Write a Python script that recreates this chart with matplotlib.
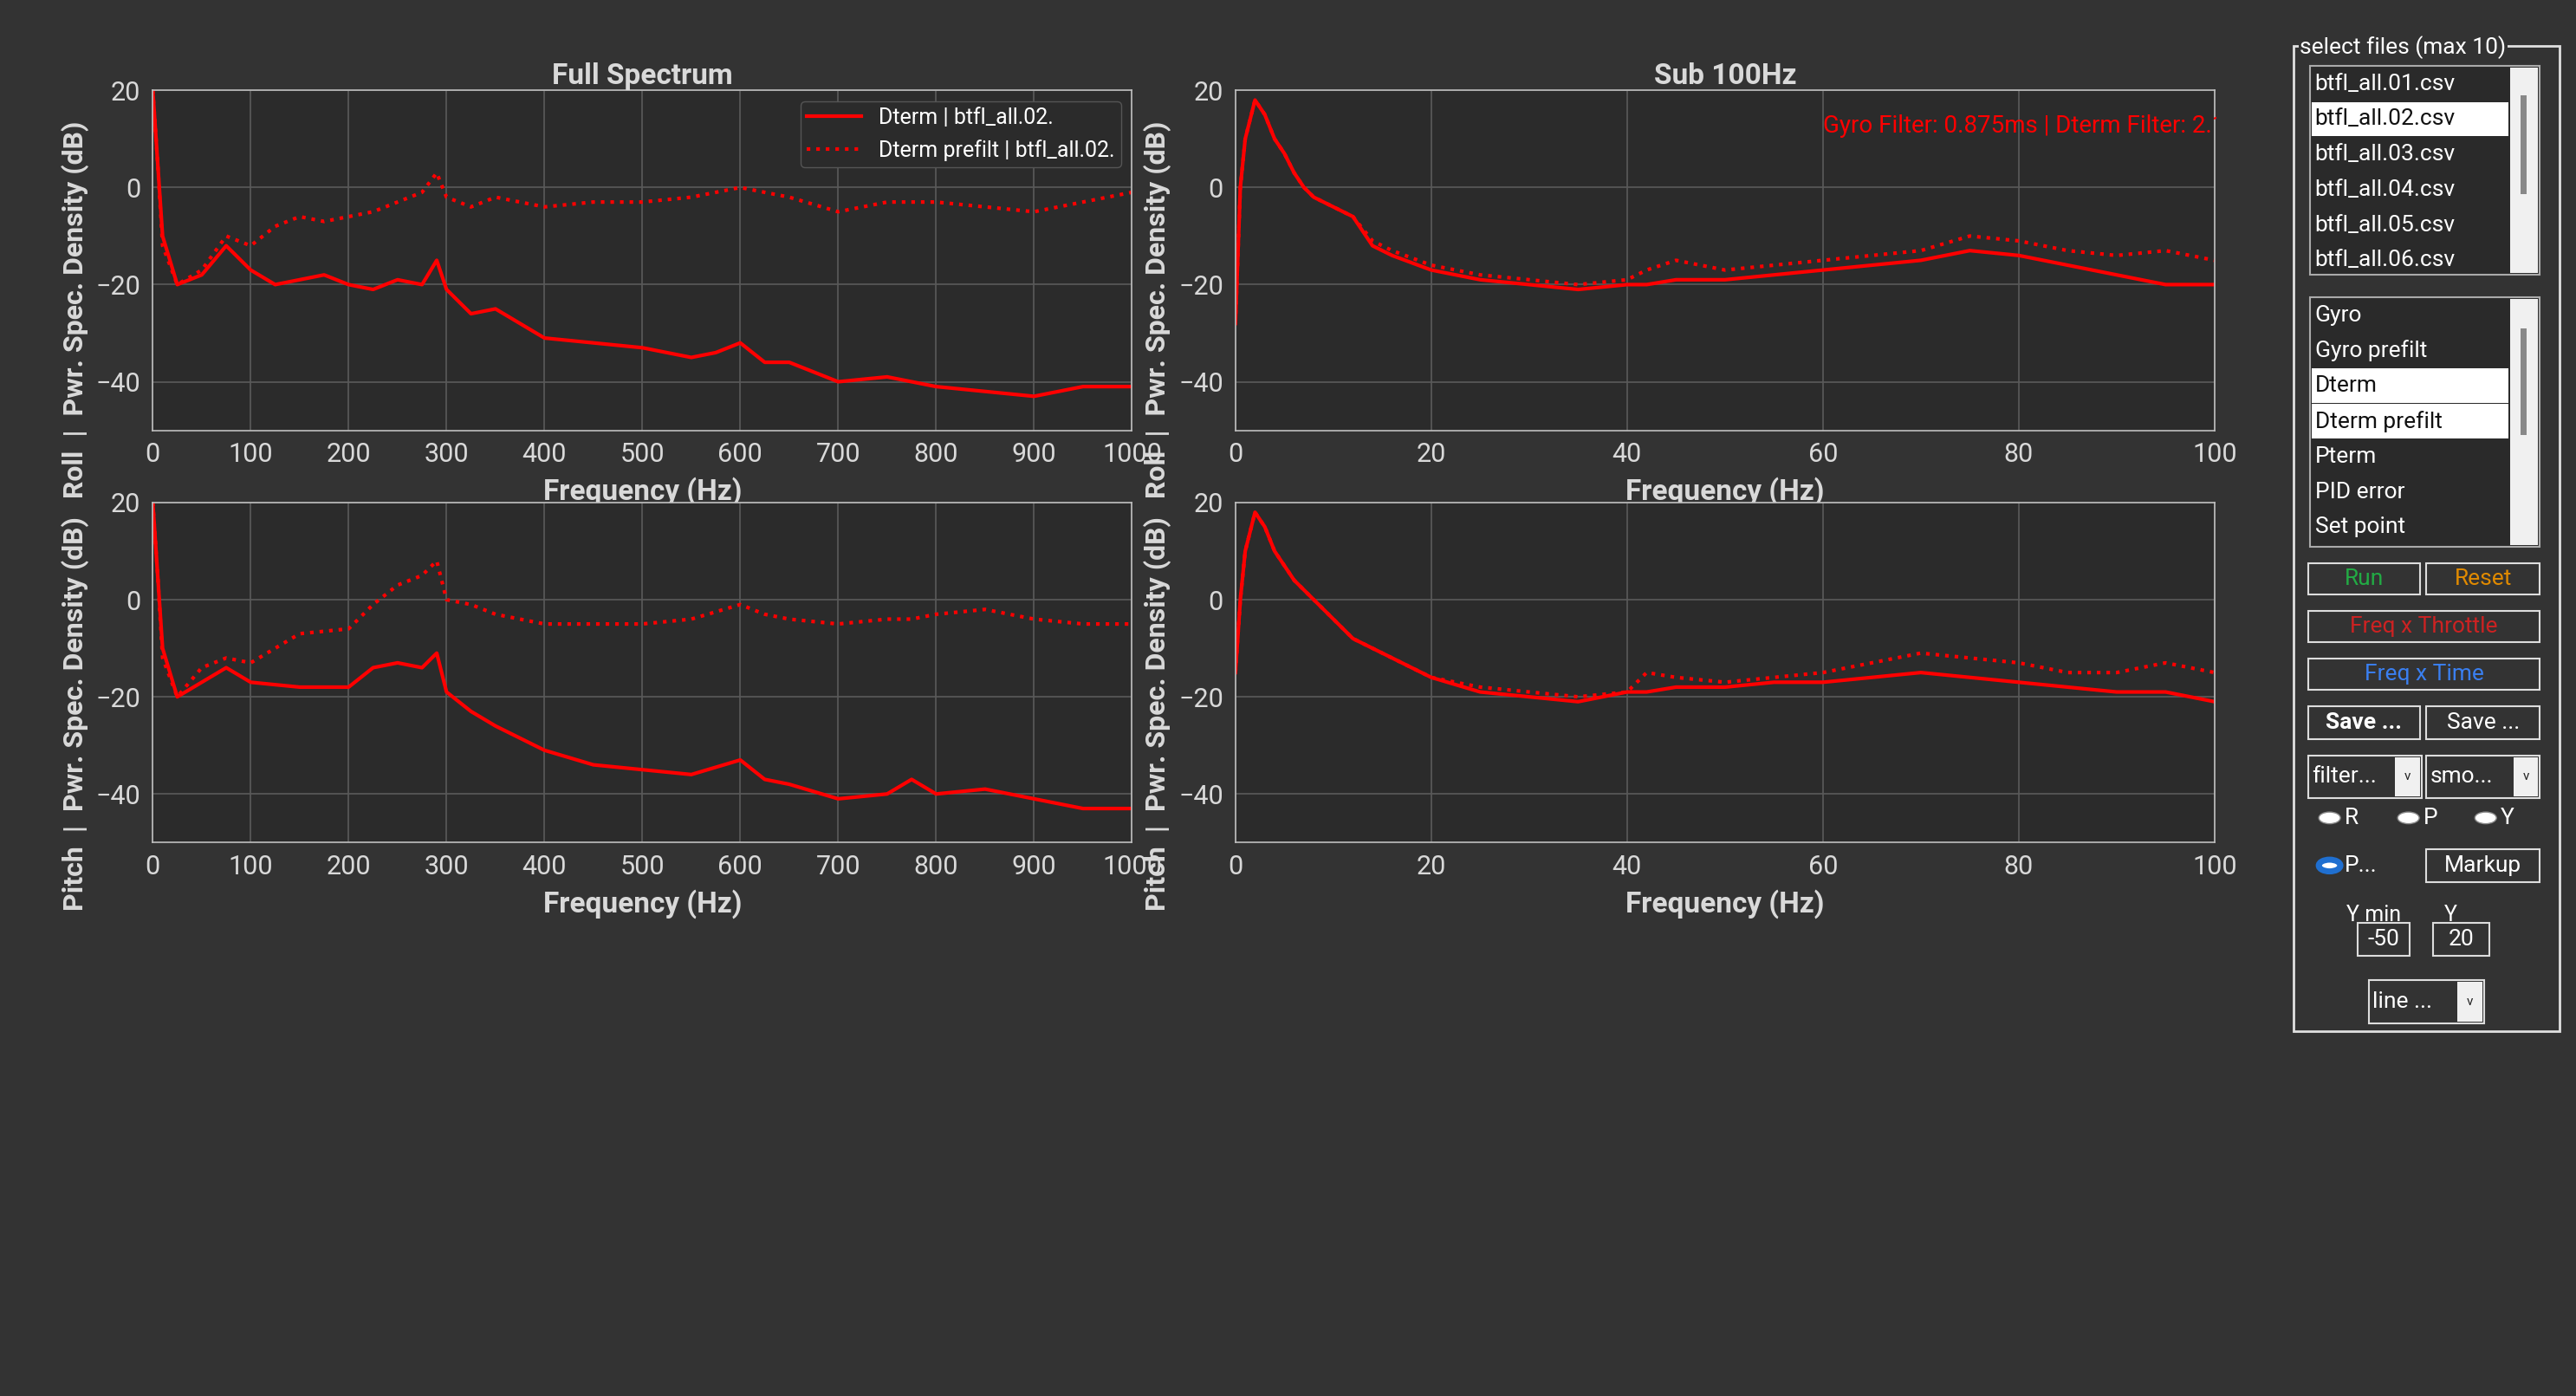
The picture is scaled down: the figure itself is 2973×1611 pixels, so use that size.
import numpy as np
import matplotlib
matplotlib.use('Agg')
import matplotlib.pyplot as plt
from matplotlib.patches import Rectangle, Circle

plt.rcParams['font.family'] = ['Roboto', 'DejaVu Sans']

# full spectrum (Hz, dB)
f_full_roll = [0, 5, 10, 25, 50, 75, 100, 125, 150, 175, 200, 225, 250, 275, 290, 300, 325, 350, 375, 400,
               450, 500, 550, 575, 600, 625, 650, 700, 750, 800, 850, 900, 950, 1000]
roll_dterm = [20, 5, -10, -20, -18, -12, -17, -20, -19, -18, -20, -21, -19, -20, -15, -21, -26, -25, -28, -31,
              -32, -33, -35, -34, -32, -36, -36, -40, -39, -41, -42, -43, -41, -41]
roll_prefilt = [20, 5, -12, -20, -17, -10, -12, -8, -6, -7, -6, -5, -3, -1, 3, -2, -4, -2, -3, -4,
                -3, -3, -2, -1, 0, -1, -2, -5, -3, -3, -4, -5, -3, -1]

f_full_pitch = [0, 5, 10, 25, 50, 75, 100, 150, 200, 225, 250, 275, 290, 300, 325, 350, 400, 450, 500, 550,
                600, 625, 650, 700, 750, 775, 800, 850, 900, 950, 1000]
pitch_dterm = [20, 5, -10, -20, -17, -14, -17, -18, -18, -14, -13, -14, -11, -19, -23, -26, -31, -34, -35, -36,
               -33, -37, -38, -41, -40, -37, -40, -39, -41, -43, -43]
pitch_prefilt = [20, 5, -12, -20, -14, -12, -13, -7, -6, -1, 3, 5, 8, 0, -1, -3, -5, -5, -5, -4,
                 -1, -3, -4, -5, -4, -4, -3, -2, -4, -5, -5]

# sub 100 Hz
f_sub = [0, 0.5, 1, 2, 3, 4, 5, 6, 7, 8, 10, 12, 14, 16, 20, 25, 30, 35, 40, 42, 45, 50, 55, 60, 65, 70,
         75, 80, 85, 90, 95, 100]
roll_sub_dterm = [-28, 0, 10, 18, 15, 10, 7, 3, 0, -2, -4, -6, -12, -14, -17, -19, -20, -21, -20, -20, -19, -19,
                  -18, -17, -16, -15, -13, -14, -16, -18, -20, -20]
roll_sub_prefilt = [-28, 0, 10, 18, 15, 10, 7, 3, 0, -2, -4, -6, -11, -13, -16, -18, -19, -20, -19, -17, -15, -17,
                    -16, -15, -14, -13, -10, -11, -13, -14, -13, -15]
pitch_sub_dterm = [-15, 0, 10, 18, 15, 10, 7, 4, 2, 0, -4, -8, -10, -12, -16, -19, -20, -21, -19, -19, -18, -18,
                   -17, -17, -16, -15, -16, -17, -18, -19, -19, -21]
pitch_sub_prefilt = [-15, 0, 10, 18, 15, 10, 7, 4, 2, 0, -4, -8, -10, -12, -16, -18, -19, -20, -19, -15, -16, -17,
                     -16, -15, -13, -11, -12, -13, -15, -15, -13, -15]

file_list = ['btfl_all.01.csv', 'btfl_all.02.csv', 'btfl_all.03.csv', 'btfl_all.04.csv',
             'btfl_all.05.csv', 'btfl_all.06.csv']
signal_list = ['Gyro', 'Gyro prefilt', 'Dterm', 'Dterm prefilt', 'Pterm', 'PID error', 'Set point']

BG = '#333333'
AXBG = '#2b2b2b'
TXT = '#d9d9d9'
W, H = 1568, 850

fig = plt.figure(figsize=(29.73, 16.11), dpi=100, facecolor=BG)

def rect(x0, y0, x1, y1):
    return [x0 / W, 1 - y1 / H, (x1 - x0) / W, (y1 - y0) / H]

def fx(x):
    return x / W

def fy(y):
    return 1 - y / H

panels = [
    (rect(93, 55, 689, 262), f_full_roll, roll_dterm, roll_prefilt, 1000, 'Full Spectrum', 'Roll'),
    (rect(752, 55, 1348, 262), f_sub, roll_sub_dterm, roll_sub_prefilt, 100, 'Sub 100Hz', 'Roll'),
    (rect(93, 306, 689, 513), f_full_pitch, pitch_dterm, pitch_prefilt, 1000, None, 'Pitch'),
    (rect(752, 306, 1348, 513), f_sub, pitch_sub_dterm, pitch_sub_prefilt, 100, None, 'Pitch'),
]

axes = []
for pos, f, d, p, xmax, title, axis in panels:
    ax = fig.add_axes(pos, facecolor=AXBG)
    ax.plot(f, d, color='red', lw=3, label='Dterm | btfl_all.02.')
    ax.plot(f, p, color='red', lw=3, ls=':', label='Dterm prefilt | btfl_all.02.')
    ax.set_xlim(0, xmax)
    ax.set_ylim(-50, 20)
    ax.set_yticks([-40, -20, 0, 20])
    ax.set_xticks(np.linspace(0, xmax, 11 if xmax == 1000 else 6))
    ax.grid(True, color='#5a5a5a', lw=1.2)
    for s in ax.spines.values():
        s.set_color('#bfbfbf')
        s.set_linewidth(1.2)
    ax.tick_params(colors=TXT, labelsize=22, length=0, pad=10)
    ax.set_xlabel('Frequency (Hz)', color=TXT, fontsize=24, fontweight='bold', labelpad=8)
    ax.set_ylabel(axis + '  |  Pwr. Spec. Density (dB)', color=TXT, fontsize=23, fontweight='bold',
                  loc='bottom', labelpad=6)
    ax.yaxis.set_label_coords(-0.065, -0.2)
    if title:
        ax.set_title(title, color=TXT, fontsize=24, fontweight='bold', pad=4)
    axes.append(ax)

leg = axes[0].legend(loc='upper right', fontsize=18, facecolor=AXBG, edgecolor='#555555',
                     labelcolor='white', framealpha=1, handlelength=2.5, borderpad=0.3)
axes[1].text(0.6, 0.93, 'Gyro Filter: 0.875ms | Dterm Filter: 2.1ms', transform=axes[1].transAxes,
             color='red', fontsize=20, va='top', clip_on=False)
fig.patches.append(Rectangle((fx(1349), fy(85)), fx(60), fy(50) - fy(85), transform=fig.transFigure,
                             facecolor=BG, edgecolor='none', zorder=5))

# control panel
def box(x0, y0, x1, y1, fc, ec='#888888', lw=1.5):
    fig.patches.append(Rectangle((fx(x0), fy(y1)), fx(x1 - x0), fy(y0) - fy(y1), transform=fig.transFigure,
                                 facecolor=fc, edgecolor=ec, lw=lw, zorder=6))

box(1396, 28, 1558, 628, BG, ec='#e0e0e0', lw=2)
fig.text(fx(1400), fy(29), 'select files (max 10)', color='white', fontsize=19, va='center', zorder=8,
         bbox=dict(facecolor=BG, edgecolor='none', pad=1))
box(1406, 40, 1546, 167, '#2a2a2a', ec='#aaaaaa')
box(1528, 41, 1545, 166, '#f0f0f0', ec='none')
box(1534, 58, 1538, 118, '#888888', ec='none')
for i, name in enumerate(file_list):
    y = 51 + i * 21.5
    if i == 1:
        box(1407, y - 10.5, 1527, y + 10.5, '#ffffff', ec='none')
    fig.text(fx(1409), fy(y), name, color='#111111' if i == 1 else 'white', fontsize=19, va='center', zorder=8)
box(1406, 181, 1546, 333, '#2a2a2a', ec='#aaaaaa')
box(1528, 182, 1545, 332, '#f0f0f0', ec='none')
box(1534, 200, 1538, 265, '#888888', ec='none')
for i, name in enumerate(signal_list):
    y = 192 + i * 21.5
    sel = name in ('Dterm', 'Dterm prefilt')
    if sel:
        box(1407, y - 10.5, 1527, y + 10.5, '#ffffff', ec='none')
    fig.text(fx(1409), fy(y), name, color='#111111' if sel else 'white', fontsize=19, va='center', zorder=8)

buttons = [
    (1405, 343, 1473, 362, 'Run', '#22aa44', False),
    (1477, 343, 1546, 362, 'Reset', '#e08a00', False),
    (1405, 372, 1546, 391, 'Freq x Throttle', '#cc2222', False),
    (1405, 401, 1546, 420, 'Freq x Time', '#3a7ff0', False),
    (1405, 430, 1473, 450, 'Save ...', 'white', True),
    (1477, 430, 1546, 450, 'Save ...', 'white', False),
    (1477, 517, 1546, 537, 'Markup', 'white', False),
]
for x0, y0, x1, y1, t, c, b in buttons:
    box(x0, y0, x1, y1, BG, ec='#dddddd')
    fig.text(fx((x0 + x1) / 2), fy((y0 + y1) / 2), t, color=c, fontsize=19, ha='center', va='center',
             fontweight='bold' if b else 'normal', zorder=8)

for x0, x1, t in [(1405, 1474, 'filter...'), (1477, 1546, 'smo...'), (1442, 1512, 'line ...')]:
    y0, y1 = (460, 486) if t != 'line ...' else (597, 623)
    box(x0, y0, x1, y1, BG, ec='#dddddd')
    box(x1 - 16, y0 + 1, x1 - 1, y1 - 1, '#f0f0f0', ec='none')
    fig.text(fx(x0 + 2), fy((y0 + y1) / 2), t, color='white', fontsize=19, va='center', zorder=8)
    fig.text(fx(x1 - 8.5), fy((y0 + y1) / 2), 'v', color='#222222', fontsize=11, ha='center', va='center', zorder=8)

for x, t in [(1418, 'R'), (1466, 'P'), (1513, 'Y')]:
    fig.patches.append(Circle((fx(x), fy(498)), 0.0042, transform=fig.transFigure, facecolor='white',
                              edgecolor='#888888', zorder=7))
    fig.text(fx(x + 9), fy(498), t, color='white', fontsize=19, va='center', zorder=8)
fig.patches.append(Circle((fx(1418), fy(527)), 0.0042, transform=fig.transFigure, facecolor='white',
                          edgecolor='#1f6fd0', lw=5, zorder=7))
fig.text(fx(1427), fy(527), 'P...', color='white', fontsize=19, va='center', zorder=8)

fig.text(fx(1428), fy(557), 'Y min', color='white', fontsize=18, va='center', zorder=8)
fig.text(fx(1488), fy(557), 'Y', color='white', fontsize=18, va='center', zorder=8)
box(1435, 562, 1467, 582, BG, ec='#dddddd')
box(1481, 562, 1515, 582, BG, ec='#dddddd')
fig.text(fx(1451), fy(572), '-50', color='white', fontsize=19, ha='center', va='center', zorder=8)
fig.text(fx(1498), fy(572), '20', color='white', fontsize=19, ha='center', va='center', zorder=8)

fig.savefig('out.png', dpi=100, facecolor=BG)
